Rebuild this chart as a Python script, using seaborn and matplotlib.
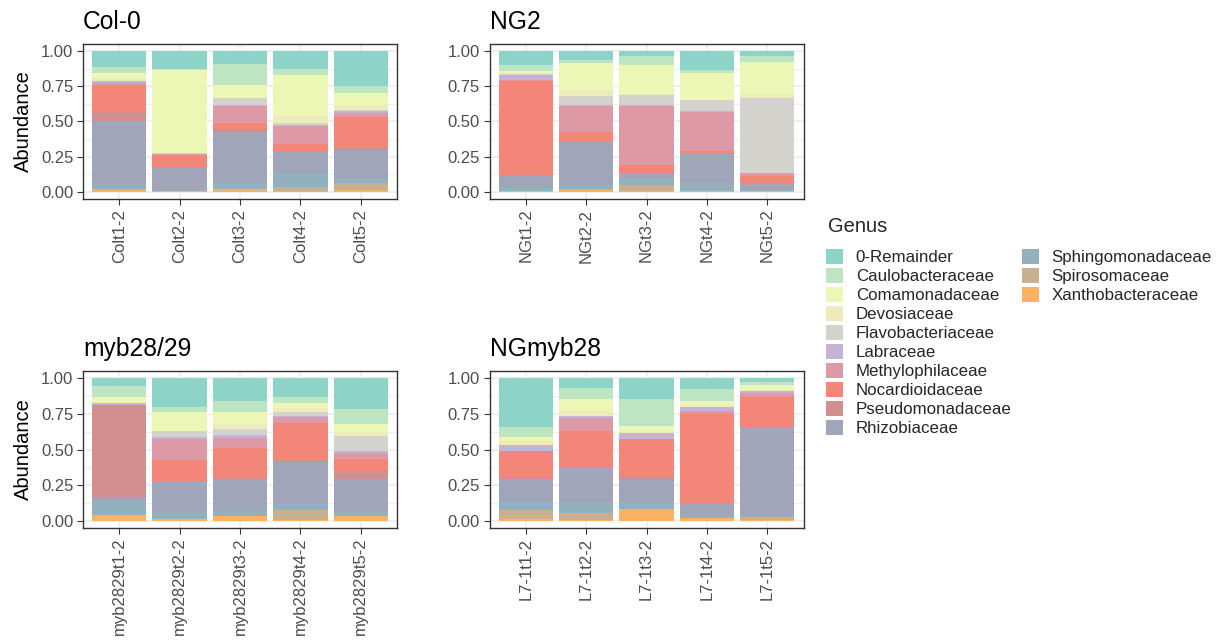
import numpy as np
import pandas as pd
import matplotlib
matplotlib.use("Agg")
import matplotlib.pyplot as plt
from matplotlib.patches import Patch
from matplotlib.ticker import FixedLocator
import seaborn as sns

genera = ["0-Remainder", "Caulobacteraceae", "Comamonadaceae", "Devosiaceae",
          "Flavobacteriaceae", "Labraceae", "Methylophilaceae", "Nocardioidaceae",
          "Pseudomonadaceae", "Rhizobiaceae", "Sphingomonadaceae", "Spirosomaceae",
          "Xanthobacteraceae"]
colors = ["#8DD3C7", "#BDE5C1", "#EDF7B5", "#EDEBBB", "#D3D2CC", "#C4B3D4",
          "#DD9AA6", "#F38679", "#D28F8F", "#A0A5BA", "#92B0BE", "#C8AF90", "#FDB163"]

panel_titles = ["Col-0", "NG2", "myb28/29", "NGmyb28"]
samples_col0 = ["Colt1-2", "Colt2-2", "Colt3-2", "Colt4-2", "Colt5-2"]
samples_ng2 = ["NGt1-2", "NGt2-2", "NGt3-2", "NGt4-2", "NGt5-2"]
samples_myb = ["myb2829t1-2", "myb2829t2-2", "myb2829t3-2", "myb2829t4-2", "myb2829t5-2"]
samples_ngmyb = ["L7-1t1-2", "L7-1t2-2", "L7-1t3-2", "L7-1t4-2", "L7-1t5-2"]
ytick_labels = ["0.00", "0.25", "0.50", "0.75", "1.00"]

# abundance per sample, genus order as in `genera`
ab_col0 = [
    [0.115, 0.040, 0.035, 0.020, 0.005, 0.015, 0.010, 0.190, 0.065, 0.450, 0.035, 0.005, 0.015],
    [0.130, 0.003, 0.590, 0.002, 0.003, 0.002, 0.005, 0.085, 0.002, 0.168, 0.003, 0.000, 0.007],
    [0.089, 0.152, 0.091, 0.000, 0.049, 0.007, 0.120, 0.047, 0.023, 0.353, 0.047, 0.000, 0.022],
    [0.126, 0.045, 0.292, 0.051, 0.010, 0.009, 0.126, 0.056, 0.004, 0.147, 0.098, 0.028, 0.008],
    [0.248, 0.051, 0.082, 0.035, 0.013, 0.010, 0.028, 0.211, 0.023, 0.201, 0.037, 0.047, 0.014],
]
ab_ng2 = [
    [0.098, 0.047, 0.012, 0.008, 0.003, 0.035, 0.010, 0.667, 0.003, 0.087, 0.020, 0.000, 0.010],
    [0.065, 0.019, 0.196, 0.040, 0.061, 0.007, 0.184, 0.070, 0.000, 0.308, 0.030, 0.006, 0.014],
    [0.035, 0.063, 0.206, 0.009, 0.068, 0.007, 0.420, 0.061, 0.000, 0.042, 0.040, 0.042, 0.007],
    [0.136, 0.023, 0.191, 0.000, 0.075, 0.007, 0.276, 0.023, 0.000, 0.204, 0.058, 0.000, 0.007],
    [0.035, 0.042, 0.231, 0.028, 0.528, 0.000, 0.024, 0.047, 0.000, 0.051, 0.004, 0.000, 0.010],
]
ab_myb = [
    [0.052, 0.081, 0.038, 0.004, 0.000, 0.014, 0.000, 0.009, 0.635, 0.037, 0.090, 0.000, 0.040],
    [0.204, 0.033, 0.133, 0.000, 0.045, 0.008, 0.152, 0.143, 0.005, 0.215, 0.046, 0.000, 0.016],
    [0.162, 0.075, 0.084, 0.037, 0.040, 0.019, 0.070, 0.211, 0.009, 0.218, 0.042, 0.000, 0.033],
    [0.129, 0.044, 0.038, 0.023, 0.028, 0.007, 0.042, 0.263, 0.014, 0.297, 0.038, 0.068, 0.009],
    [0.213, 0.108, 0.056, 0.028, 0.106, 0.014, 0.039, 0.089, 0.054, 0.230, 0.030, 0.000, 0.033],
]
ab_ngmyb = [
    [0.342, 0.068, 0.028, 0.028, 0.000, 0.042, 0.005, 0.183, 0.014, 0.152, 0.061, 0.065, 0.012],
    [0.070, 0.078, 0.082, 0.035, 0.000, 0.016, 0.089, 0.251, 0.000, 0.257, 0.070, 0.043, 0.009],
    [0.148, 0.187, 0.040, 0.011, 0.000, 0.043, 0.000, 0.257, 0.019, 0.162, 0.049, 0.000, 0.084],
    [0.077, 0.082, 0.028, 0.012, 0.000, 0.031, 0.021, 0.627, 0.000, 0.078, 0.023, 0.000, 0.021],
    [0.028, 0.019, 0.035, 0.007, 0.000, 0.016, 0.028, 0.211, 0.000, 0.628, 0.000, 0.019, 0.009],
]

panels = [(samples_col0, ab_col0), (samples_ng2, ab_ng2),
          (samples_myb, ab_myb), (samples_ngmyb, ab_ngmyb)]

sns.set_style("ticks")
plt.rcParams["font.family"] = ["Liberation Sans", "DejaVu Sans"]

fig = plt.figure(figsize=(12.3, 6.44), dpi=100)
W, H = 1230, 644
boxes = [(83, 44, 397, 199), (489.5, 44, 803.5, 199),
         (83, 371, 397, 528), (489.5, 371, 803.5, 528)]

grid_c = "#EBEBEB"
for i, ((samples, ab), title) in enumerate(zip(panels, panel_titles)):
    l, t, r, b = boxes[i]
    ax = fig.add_axes([l / W, 1 - b / H, (r - l) / W, (b - t) / H])
    arr = np.array(ab)
    cum_from_bottom = np.cumsum(arr[:, ::-1], axis=1)[:, ::-1]  # col j = top of genus j
    for j, g in enumerate(genera):
        df = pd.DataFrame({"sample": samples, "top": cum_from_bottom[:, j]})
        sns.barplot(data=df, x="sample", y="top", order=samples, color=colors[j],
                    saturation=1, width=0.9, errorbar=None, linewidth=0,
                    edgecolor="none", ax=ax, zorder=3)
    ax.set_xlim(-0.6, 4.6)
    ax.set_ylim(-0.05, 1.05)
    ax.yaxis.set_major_locator(FixedLocator([0, 0.25, 0.5, 0.75, 1.0]))
    ax.yaxis.set_minor_locator(FixedLocator([0.125, 0.375, 0.625, 0.875]))
    ax.set_yticklabels(ytick_labels)
    ax.grid(True, which="major", color=grid_c, lw=1.1, zorder=0)
    ax.grid(True, which="minor", axis="y", color=grid_c, lw=0.55, zorder=0)
    ax.set_axisbelow(True)
    for s in ax.spines.values():
        s.set_visible(True)
        s.set_color("#333333")
        s.set_linewidth(1.0)
    ax.tick_params(axis="both", which="major", length=4, width=0.8, color="#333333",
                   labelcolor="#4D4D4D", labelsize=12, pad=3)
    ax.tick_params(axis="y", which="minor", length=0)
    ax.tick_params(axis="x", labelrotation=90)
    ax.set_xlabel("")
    if i % 2 == 0:
        ax.set_ylabel("Abundance", fontsize=14.5, color="black", labelpad=6)
    else:
        ax.set_ylabel("")
    ax.set_title(title, loc="left", fontsize=17.7, pad=10.5, color="black")

fig.text(828 / W, 1 - 227 / H, "Genus", fontsize=14.5, va="center", ha="left")

handles = [Patch(facecolor=c, edgecolor="none") for c in colors]
labels = list(genera)
blank = Patch(facecolor="none", edgecolor="none")
hl = handles[:10] + handles[10:] + [blank] * 7
ll = labels[:10] + labels[10:] + [""] * 7
leg = fig.legend(hl, ll, loc="upper left",
                 bbox_to_anchor=(826 / W, 1 - 249 / H), ncol=2, frameon=False,
                 fontsize=12.2, handlelength=1.0, handleheight=1.0,
                 labelspacing=0.155, handletextpad=0.75, columnspacing=0.6,
                 borderaxespad=0, borderpad=0)

fig.savefig("out.png", dpi=100)
